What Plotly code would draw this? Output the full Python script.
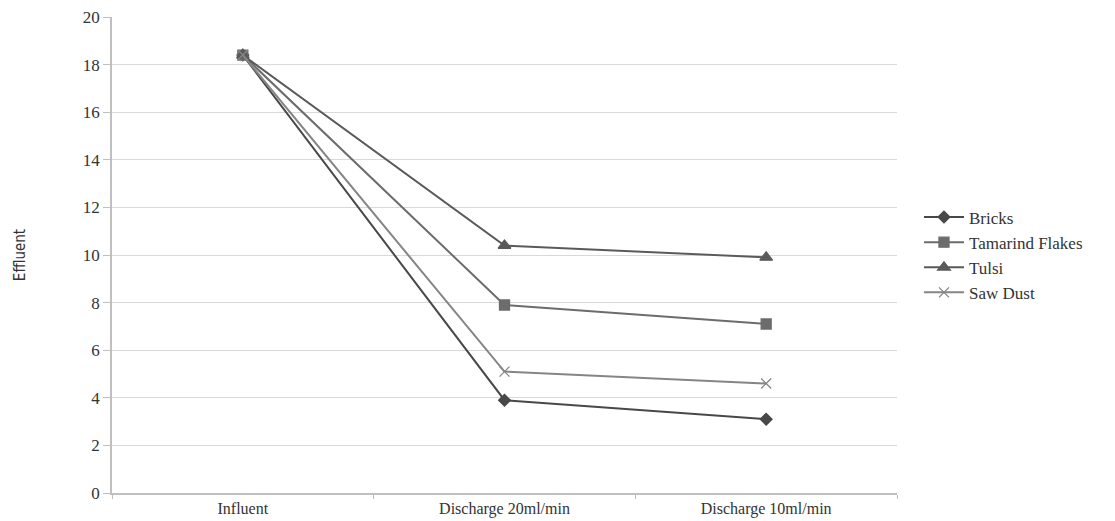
import plotly.graph_objects as go

categories = ["Influent", "Discharge 20ml/min", "Discharge 10ml/min"]
bricks = [18.4, 3.9, 3.1]
tamarind = [18.4, 7.9, 7.1]
tulsi = [18.4, 10.4, 9.9]
saw_dust = [18.4, 5.1, 4.6]

series = [
    ("Bricks", bricks, "#484848", "diamond", 9),
    ("Tamarind Flakes", tamarind, "#6c6c6c", "square", 10),
    ("Tulsi", tulsi, "#5a5a5a", "triangle-up", 11),
    ("Saw Dust", saw_dust, "#858585", "x-thin-open", 10),
]

fig = go.Figure()
for name, vals, col, sym, sz in series:
    fig.add_trace(go.Scatter(
        x=categories, y=vals, name=name, mode="lines+markers",
        line=dict(color=col, width=2),
        marker=dict(symbol=sym, size=sz, color=col, line=dict(color=col, width=1.3)),
    ))

# page body has an 8px default margin, so the figure is sized/offset to compensate
fig.update_layout(
    width=1107, height=513,
    margin=dict(l=104, r=218, t=9, b=28),
    paper_bgcolor="white", plot_bgcolor="white",
    font=dict(family="Liberation Serif", size=16, color="#333333"),
    showlegend=True,
    legend=dict(x=1.028, y=0.5, xanchor="left", yanchor="middle",
                font=dict(family="Liberation Serif", size=17, color="#333333"),
                tracegroupgap=0, itemwidth=40),
)
fig.update_xaxes(
    type="category", range=[-0.5, 2.5], tickson="boundaries",
    ticks="outside", ticklen=4, tickcolor="#bfbfbf", automargin=False,
    showline=True, linecolor="#bfbfbf", linewidth=1.5, showgrid=False,
    tickfont=dict(family="Liberation Serif", size=16, color="#333333"),
)
fig.update_yaxes(
    range=[0, 20], dtick=2, ticks="outside", ticklen=7, tickcolor="#bfbfbf",
    showline=True, linecolor="#bfbfbf", linewidth=1.5, automargin=False,
    ticklabeloverflow="allow",
    showgrid=True, gridcolor="#d9d9d9", gridwidth=1, zeroline=False,
    tickfont=dict(family="Liberation Serif", size=17, color="#333333"),
    title=dict(text="Effluent", font=dict(family="DejaVu Sans Condensed", size=15, color="#333333"), standoff=54),
)

fig.write_html("out.html")
